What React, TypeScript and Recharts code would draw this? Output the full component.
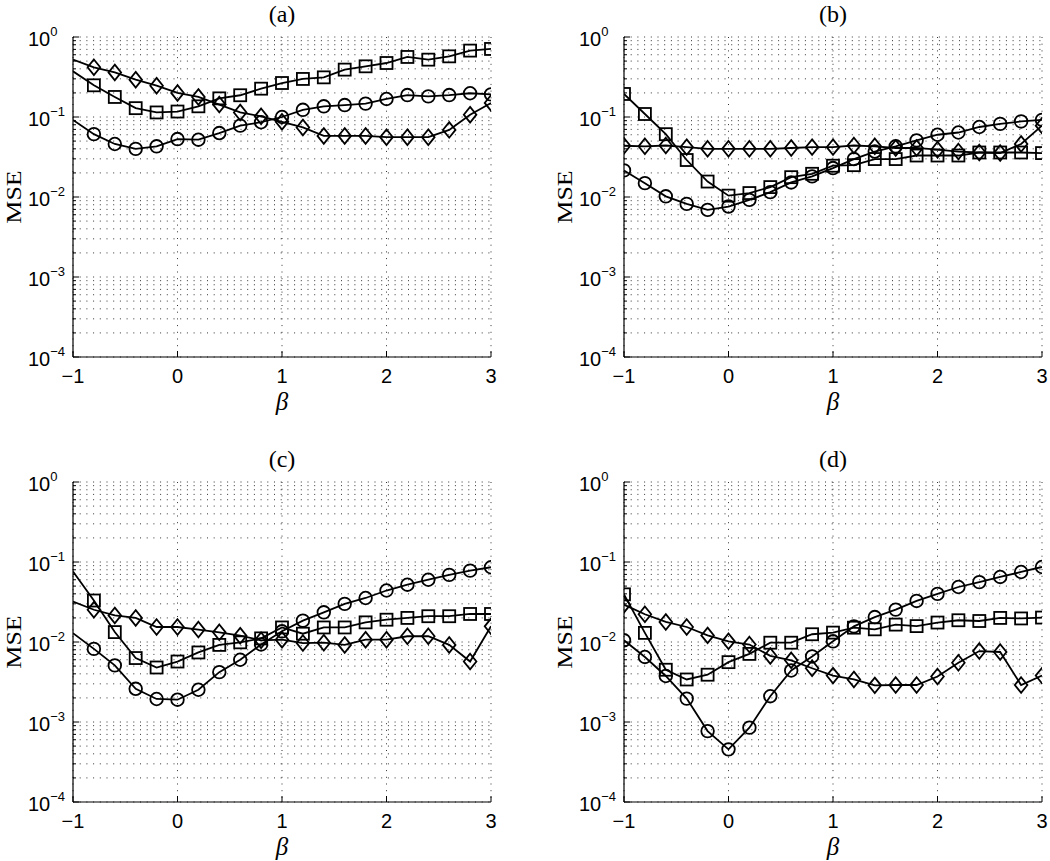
import React from 'react';
import { LineChart, Line, XAxis, YAxis, CartesianGrid } from 'recharts';

// ---------- data ----------
const betaValues = [-1, -0.8, -0.6, -0.4, -0.2, 0, 0.2, 0.4, 0.6, 0.8, 1, 1.2, 1.4, 1.6, 1.8, 2, 2.2, 2.4, 2.6, 2.8, 3];

const xTicks = [-1, 0, 1, 2, 3];
const xTickLabels = ['−1', '0', '1', '2', '3'];
const yDecades = [1e-4, 1e-3, 1e-2, 1e-1, 1];
const yDecadeExponents = ['−4', '−3', '−2', '−1', '0'];
const yMinorMultipliers = [2, 3, 4, 5, 6, 7, 8, 9];
const panelTitles = ['(a)', '(b)', '(c)', '(d)'];

// panel (a)
const aCircle = [0.092, 0.061, 0.046, 0.040, 0.043, 0.053, 0.052, 0.063, 0.078, 0.086, 0.100, 0.123, 0.136, 0.141, 0.147, 0.168, 0.188, 0.181, 0.188, 0.198, 0.192];
const aSquare = [0.372, 0.249, 0.178, 0.129, 0.114, 0.117, 0.136, 0.171, 0.187, 0.226, 0.266, 0.299, 0.313, 0.391, 0.430, 0.473, 0.563, 0.521, 0.573, 0.676, 0.709];
const aDiamond = [0.521, 0.418, 0.361, 0.293, 0.246, 0.200, 0.178, 0.143, 0.114, 0.102, 0.087, 0.074, 0.058, 0.058, 0.058, 0.056, 0.056, 0.056, 0.069, 0.107, 0.150];

// panel (b)
const bCircle = [0.0215, 0.0149, 0.0102, 0.0082, 0.0069, 0.0076, 0.0092, 0.0115, 0.0152, 0.0181, 0.023, 0.0298, 0.037, 0.043, 0.051, 0.060, 0.064, 0.075, 0.082, 0.088, 0.092];
const bSquare = [0.194, 0.109, 0.061, 0.029, 0.0156, 0.0104, 0.0112, 0.0133, 0.0177, 0.0195, 0.0246, 0.025, 0.0298, 0.0298, 0.033, 0.033, 0.033, 0.036, 0.036, 0.036, 0.0354];
const bDiamond = [0.0437, 0.043, 0.044, 0.042, 0.040, 0.040, 0.040, 0.040, 0.041, 0.042, 0.042, 0.044, 0.043, 0.041, 0.041, 0.039, 0.037, 0.036, 0.0354, 0.046, 0.078];

// panel (c)
const cCircle = [0.0129, 0.0082, 0.0051, 0.0026, 0.00194, 0.0019, 0.00253, 0.0042, 0.0060, 0.0093, 0.0136, 0.0185, 0.0235, 0.030, 0.0355, 0.044, 0.052, 0.060, 0.069, 0.078, 0.086];
const cSquare = [0.076, 0.033, 0.0133, 0.0063, 0.0048, 0.0057, 0.0074, 0.0092, 0.0099, 0.0111, 0.0152, 0.0127, 0.0152, 0.0152, 0.0176, 0.019, 0.020, 0.021, 0.021, 0.0224, 0.0224];
const cDiamond = [0.032, 0.0253, 0.0215, 0.020, 0.0154, 0.0154, 0.0143, 0.0132, 0.012, 0.0105, 0.0107, 0.0097, 0.0098, 0.0092, 0.0107, 0.0107, 0.0118, 0.0118, 0.0092, 0.0057, 0.0157];

// panel (d)
const dCircle = [0.0105, 0.0065, 0.00376, 0.00196, 0.00077, 0.000455, 0.00085, 0.0021, 0.0044, 0.0066, 0.0102, 0.0157, 0.0205, 0.0254, 0.0326, 0.040, 0.0487, 0.056, 0.065, 0.075, 0.0866];
const dSquare = [0.0394, 0.013, 0.0045, 0.0034, 0.0039, 0.0056, 0.0071, 0.0098, 0.0098, 0.0125, 0.0131, 0.0151, 0.0144, 0.0165, 0.0158, 0.0175, 0.0187, 0.0183, 0.020, 0.0197, 0.0202];
const dDiamond = [0.0293, 0.0222, 0.0178, 0.0154, 0.0121, 0.0102, 0.0093, 0.0067, 0.0059, 0.0047, 0.0038, 0.0034, 0.00287, 0.0029, 0.0029, 0.0037, 0.0055, 0.0077, 0.0075, 0.0029, 0.0038];

// ---------- layout ----------
const CHART_W = 499;
const CHART_H = 416;
const Y_AXIS_W = 73;
const MARGIN = { top: 37, right: 8, bottom: 0, left: 0 };
const X_AXIS_H = 59;
const PLOT_W = CHART_W - Y_AXIS_W - MARGIN.right;
const PLOT_H = CHART_H - MARGIN.top - X_AXIS_H;
const PLOT_CX = Y_AXIS_W + PLOT_W / 2;

const yTicks: number[] = [];
yDecades.forEach((d, i) => {
  yTicks.push(d);
  if (i < yDecades.length - 1) yMinorMultipliers.forEach((m) => yTicks.push(m * d));
});

const SANS = '"Liberation Sans", Arial, Helvetica, sans-serif';
const SERIF = '"Liberation Serif", "Times New Roman", serif';
const LW = 1.8;

type Shape = 'circle' | 'square' | 'diamond';

const makeDot = (shape: Shape, hideFirst: boolean) => (props: any) => {
  const { cx, cy, index } = props;
  const k = `${shape}-${index}`;
  if (cx == null || cy == null || (hideFirst && index === 0)) return <g key={k} />;
  if (shape === 'circle') {
    return <circle key={k} cx={cx} cy={cy} r={6.3} fill="none" stroke="#000" strokeWidth={LW} />;
  }
  if (shape === 'square') {
    return <rect key={k} x={cx - 6} y={cy - 6} width={12} height={12} fill="none" stroke="#000" strokeWidth={LW} />;
  }
  const w = 6.3;
  const h = 7.8;
  return (
    <polygon
      key={k}
      points={`${cx},${cy - h} ${cx + w},${cy} ${cx},${cy + h} ${cx - w},${cy}`}
      fill="none"
      stroke="#000"
      strokeWidth={LW}
    />
  );
};

const LeftYTick = (props: any) => {
  const { x, y, payload } = props;
  const idx = yDecades.indexOf(payload.value);
  const major = idx >= 0;
  return (
    <g>
      <line x1={x} x2={x + (major ? 6 : 3)} y1={y} y2={y} stroke="#000" strokeWidth={1} />
      {major && (
        <text x={x - 45} y={y + 8.5} fontFamily={SANS} fontSize={20} fill="#000">
          10
          <tspan dy={-10} fontSize={13}>
            {yDecadeExponents[idx]}
          </tspan>
        </text>
      )}
    </g>
  );
};

const RightYTick = (props: any) => {
  const { x, y, payload } = props;
  const major = yDecades.indexOf(payload.value) >= 0;
  return <line x1={x} x2={x - (major ? 6 : 3)} y1={y} y2={y} stroke="#000" strokeWidth={1} />;
};

const BottomXTick = (props: any) => {
  const { x, y, payload } = props;
  const idx = xTicks.indexOf(payload.value);
  return (
    <g>
      <line x1={x} x2={x} y1={y} y2={y - 6} stroke="#000" strokeWidth={1} />
      <text x={x} y={y + 26} textAnchor="middle" fontFamily={SANS} fontSize={20} fill="#000">
        {xTickLabels[idx]}
      </text>
    </g>
  );
};

const TopXTick = (props: any) => {
  const { x, y } = props;
  return <line x1={x} x2={x} y1={y} y2={y + 6} stroke="#000" strokeWidth={1} />;
};

type PanelProps = {
  title: string;
  circle: number[];
  square: number[];
  diamond: number[];
  left: number;
  top: number;
  hideFirst: boolean;
};

const Panel = ({ title, circle, square, diamond, left, top, hideFirst }: PanelProps) => {
  const data = betaValues.map((b, i) => ({ beta: b, circle: circle[i], square: square[i], diamond: diamond[i] }));
  return (
    <div style={{ position: 'absolute', left, top, width: CHART_W, height: CHART_H }}>
      <LineChart width={CHART_W} height={CHART_H} data={data} margin={MARGIN}>
        <CartesianGrid stroke="#000" strokeOpacity={0.8} strokeDasharray="1 5.7" />
        <XAxis
          dataKey="beta"
          type="number"
          domain={[-1, 3]}
          ticks={xTicks}
          interval={0}
          allowDataOverflow
          height={X_AXIS_H}
          tickSize={0}
          tickMargin={0}
          tick={<BottomXTick />}
          tickLine={false}
          axisLine={{ stroke: '#000', strokeWidth: 1.2 }}
        />
        <XAxis
          xAxisId="top"
          orientation="top"
          dataKey="beta"
          type="number"
          domain={[-1, 3]}
          ticks={xTicks}
          interval={0}
          allowDataOverflow
          height={0}
          tickSize={0}
          tickMargin={0}
          tick={<TopXTick />}
          tickLine={false}
          axisLine={{ stroke: '#000', strokeWidth: 1.2 }}
        />
        <YAxis
          type="number"
          scale="log"
          domain={[1e-4, 1]}
          ticks={yTicks}
          interval={0}
          allowDataOverflow
          width={Y_AXIS_W}
          tickSize={0}
          tickMargin={0}
          tick={<LeftYTick />}
          tickLine={false}
          axisLine={{ stroke: '#000', strokeWidth: 1.2 }}
        />
        <YAxis
          yAxisId="right"
          orientation="right"
          type="number"
          scale="log"
          domain={[1e-4, 1]}
          ticks={yTicks}
          interval={0}
          allowDataOverflow
          width={0}
          tickSize={0}
          tickMargin={0}
          tick={<RightYTick />}
          tickLine={false}
          axisLine={{ stroke: '#000', strokeWidth: 1.2 }}
        />
        <Line type="linear" dataKey="circle" stroke="#000" strokeWidth={LW} dot={makeDot('circle', hideFirst)} activeDot={false} isAnimationActive={false} />
        <Line type="linear" dataKey="square" stroke="#000" strokeWidth={LW} dot={makeDot('square', hideFirst)} activeDot={false} isAnimationActive={false} />
        <Line type="linear" dataKey="diamond" stroke="#000" strokeWidth={LW} dot={makeDot('diamond', hideFirst)} activeDot={false} isAnimationActive={false} />
      </LineChart>
      <div
        style={{
          position: 'absolute',
          left: PLOT_CX - 40,
          width: 80,
          top: 0,
          textAlign: 'center',
          fontFamily: SERIF,
          fontSize: 24,
          lineHeight: '28px',
          color: '#000',
        }}
      >
        {title}
      </div>
      <div
        style={{
          position: 'absolute',
          left: 14 - 50,
          top: MARGIN.top + PLOT_H / 2 - 13,
          width: 100,
          height: 26,
          lineHeight: '26px',
          textAlign: 'center',
          fontFamily: SERIF,
          fontSize: 20,
          color: '#000',
          transform: 'rotate(-90deg) scaleX(1.3)',
        }}
      >
        MSE
      </div>
      <div
        style={{
          position: 'absolute',
          left: PLOT_CX - 30,
          width: 60,
          top: MARGIN.top + PLOT_H + 33,
          textAlign: 'center',
          fontFamily: SERIF,
          fontStyle: 'italic',
          fontSize: 25,
          lineHeight: '24px',
          color: '#000',
        }}
      >
        β
      </div>
    </div>
  );
};

export default function App() {
  return (
    <div style={{ position: 'absolute', left: 0, top: 0, width: 1050, height: 861, background: '#fff', overflow: 'hidden' }}>
      <Panel title={panelTitles[0]} circle={aCircle} square={aSquare} diamond={aDiamond} left={0} top={0} hideFirst={true} />
      <Panel title={panelTitles[1]} circle={bCircle} square={bSquare} diamond={bDiamond} left={551} top={0} hideFirst={false} />
      <Panel title={panelTitles[2]} circle={cCircle} square={cSquare} diamond={cDiamond} left={0} top={445} hideFirst={true} />
      <Panel title={panelTitles[3]} circle={dCircle} square={dSquare} diamond={dDiamond} left={551} top={445} hideFirst={false} />
    </div>
  );
}
